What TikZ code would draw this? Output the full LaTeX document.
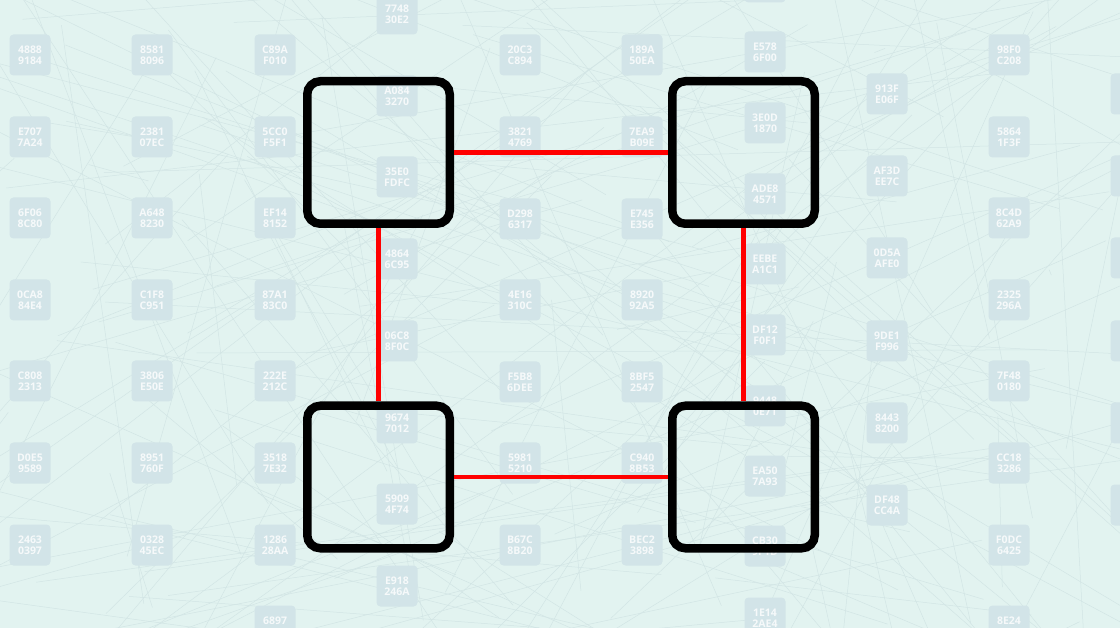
\documentclass[tikz,border=0pt]{standalone}
\usepackage{fontspec}
\newfontfamily\chipfont{Open Sans}
\usetikzlibrary{positioning}
\definecolor{mint}{RGB}{226,243,240}
\definecolor{tilecol}{RGB}{210,228,232}
\definecolor{wirecol}{RGB}{210,229,229}

\begin{document}
\begin{tikzpicture}[
    x=1pt, y=-1pt,
    box/.style={draw, line width=8.5pt, rounded corners=13pt, minimum size=142.5pt, inner sep=0pt},
    link/.style={draw=red, line width=4.5pt},
    chip/.style={fill=tilecol, rounded corners=4pt, minimum size=41pt, inner sep=0pt, text=white, text opacity=0.8, align=center, font=\chipfont\bfseries\fontsize{10.5}{10.8}\selectfont},
    wire/.style={draw=wirecol, line width=0.5pt}
  ]
  \useasboundingbox (0,0) rectangle (1120,628);
  \begin{scope}
    \clip (0,0) rectangle (1120,628);
    \fill[mint] (0,0) rectangle (1120,628);
    % faint mesh behind the chips
    \pgfmathsetseed{17}
    \foreach \k in {1,...,170}{
      \pgfmathsetmacro{\xa}{rnd*1400-140}
      \pgfmathsetmacro{\ya}{rnd*800-90}
      \pgfmathsetmacro{\xb}{rnd*1400-140}
      \pgfmathsetmacro{\yb}{rnd*800-90}
      \draw[wire] (\xa,\ya) -- (\xb,\yb);
    }
    % chips
    \foreach \cx/\cy/\lbl in {
      30/55/{4888\\9184}, 30/137/{E707\\7A24}, 30/218/{6F06\\8C80}, 30/300/{0CA8\\84E4},
      30/381/{C808\\2313}, 30/463/{D0E5\\9589}, 30/545/{2463\\0397},
      152/55/{8581\\8096}, 152/137/{2381\\07EC}, 152/218/{A648\\8230}, 152/300/{C1F8\\C951},
      152/381/{3806\\E50E}, 152/463/{8951\\760F}, 152/545/{0328\\45EC},
      275/55/{C89A\\F010}, 275/137/{5CC0\\F5F1}, 275/218/{EF14\\8152}, 275/300/{87A1\\83C0},
      275/381/{222E\\212C}, 275/463/{3518\\7E32}, 275/545/{1286\\28AA}, 275/626/{6897\\{}},
      397/14/{7748\\30E2}, 397/96/{A084\\3270}, 397/177/{35E0\\FDFC}, 397/259/{4864\\6C95},
      397/341/{06C8\\8F0C}, 397/423/{9674\\7012}, 397/504/{5909\\4F74}, 397/586/{E918\\246A},
      520/55/{20C3\\C894}, 520/137/{3821\\4769}, 520/219/{D298\\6317}, 520/300/{4E16\\310C},
      520/382/{F5B8\\6DEE}, 520/463/{5981\\5210}, 520/545/{B67C\\8B20},
      642/55/{189A\\50EA}, 642/137/{7EA9\\B09E}, 642/219/{E745\\E356}, 642/300/{8920\\92A5},
      642/382/{8BF5\\2547}, 642/463/{C940\\8B53}, 642/545/{BEC2\\3898},
      765/-18/{}, 765/52/{E578\\6F00}, 765/123/{3E0D\\1870}, 765/194/{ADE8\\4571},
      765/264/{EEBE\\A1C1}, 765/335/{DF12\\F0F1}, 765/406/{9448\\0E71}, 765/476/{EA50\\7A93},
      765/546/{CB30\\9F1D}, 765/618/{1E14\\2AE4},
      887/94/{913F\\E06F}, 887/176/{AF3D\\EE7C}, 887/258/{0D5A\\AFE0}, 887/341/{9DE1\\F996},
      887/423/{8443\\8200}, 887/505/{DF48\\CC4A},
      1009/55/{98F0\\C208}, 1009/137/{5864\\1F3F}, 1009/218/{8C4D\\62A9}, 1009/300/{2325\\296A},
      1009/381/{7F48\\0180}, 1009/463/{CC18\\3286}, 1009/545/{F0DC\\6425}, 1009/626/{8E24\\{}},
      1131/94/{}, 1131/176/{}, 1131/258/{}, 1131/341/{}, 1131/423/{}, 1131/505/{}}
      \node[chip] (chip-\cx-\cy) at (\cx,\cy) {\lbl};
  \end{scope}

  \node[box] (TL) at (378.5,152.5) {};
  \node[box] (TR) at (743.5,152.5) {};
  \node[box] (BL) at (378.5,477) {};
  \node[box] (BR) at (743.5,477) {};

  \draw[link] (TL) -- (TR);
  \draw[link] (BL) -- (BR);
  \draw[link] (TL) -- (BL);
  \draw[link] (TR) -- (BR);
\end{tikzpicture}
\end{document}
